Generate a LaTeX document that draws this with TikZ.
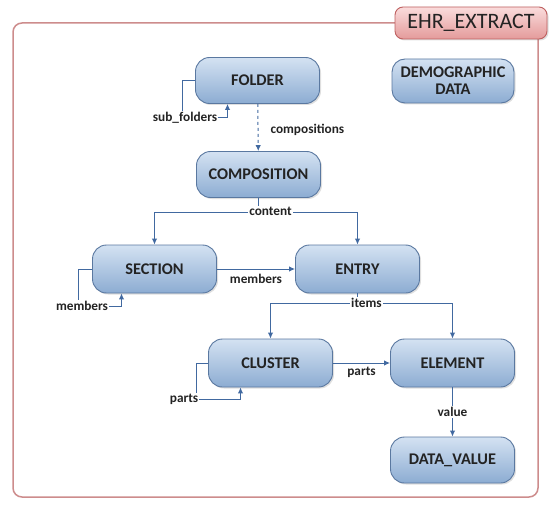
\documentclass[tikz,border=0pt]{standalone}
\usepackage{fontspec}
\setmainfont{Carlito}
\usetikzlibrary{arrows, arrows.meta, positioning, calc, shadows}

\definecolor{boxtop}{RGB}{212,226,242}
\definecolor{boxbot}{RGB}{140,172,210}
\definecolor{boxline}{RGB}{90,120,160}
\definecolor{linkcol}{RGB}{65,105,160}
\definecolor{txt}{RGB}{35,35,35}
\definecolor{framecol}{RGB}{205,140,140}
\definecolor{ehrtop}{RGB}{250,220,220}
\definecolor{ehrbot}{RGB}{228,155,155}
\definecolor{ehrline}{RGB}{190,95,95}

\begin{document}
\begin{tikzpicture}[x=1pt, y=-1pt, >={Latex[length=6pt, width=5.5pt]},
    block/.style={rectangle, draw=boxline, line width=0.9pt, rounded corners=14pt,
        top color=boxtop, bottom color=boxbot, minimum width=124pt, minimum height=46pt,
        text centered, align=center, text=txt, font=\fontsize{16.3}{17}\selectfont\bfseries,
        drop shadow={shadow xshift=1.5pt, shadow yshift=-1.5pt, opacity=0.25}},
    lbl/.style={text=txt, inner sep=1pt, font=\fontsize{13.3}{14}\selectfont\bfseries},
    link/.style={draw=linkcol, line width=1pt, ->}]
    \useasboundingbox (0,0) rectangle (556,505);

    % Frame
    \draw[framecol, line width=1.5pt, rounded corners=9pt] (13,23) rectangle (538,497);
    \node (ehr) [rectangle, draw=ehrline, line width=0.9pt, rounded corners=8pt, top color=ehrtop, bottom color=ehrbot,
        minimum width=152pt, minimum height=32pt, text=txt, font=\fontsize{22}{24}\selectfont,
        drop shadow={shadow xshift=1.5pt, shadow yshift=-1.5pt, opacity=0.25}] at (471,23) {EHR\_EXTRACT};

    % Nodes
    \node (folder) [block] at (257.5,80.5) {FOLDER};
    \node (demographic) [block, minimum width=122pt, minimum height=44pt, rounded corners=13pt] at (453,81) {DEMOGRAPHIC\\DATA};
    \node (composition) [block] at (258.5,174.5) {COMPOSITION};
    \node (section) [block, minimum height=48pt] at (154.5,269) {SECTION};
    \node (entry) [block, minimum height=48pt] at (357.5,269) {ENTRY};
    \node (cluster) [block, minimum height=48pt] at (270.5,363) {CLUSTER};
    \node (element) [block, minimum height=48pt] at (452.5,363) {ELEMENT};
    \node (datavalue) [block] at (452.5,460) {DATA\_VALUE};

    % Arrows
    \draw[link] (folder.west) -- ++(-13,0) -- ++(0,37.5) node[lbl, fill=white, xshift=3pt] {sub\_folders}
        -| ([xshift=-30pt]folder.south);
    \draw[link, dashed] (folder) -- (composition) node[midway, right, lbl, xshift=11pt, yshift=-2pt] {compositions};

    \draw[link] (composition.south) -- ++(0,15) coordinate (csplit) -| (section.north);
    \draw[link] (csplit) -| (entry.north);
    \node (content) [lbl, fill=white] at ([xshift=12pt, yshift=2pt]csplit) {content};

    \draw[link] (section.west) -- ++(-14,0) -- ++(0,37) node[lbl, fill=white, xshift=4pt] {members}
        -| ([xshift=-33pt]section.south);
    \draw[link] (section) -- (entry) node[midway, below, lbl, yshift=-4pt] {members};

    \draw[link] (entry.south) -- ++(0,10) coordinate (esplit) -| (cluster.north);
    \draw[link] (esplit) -| (element.north);
    \node (items) [lbl, fill=white] at ([xshift=9pt, yshift=1pt]esplit) {items};

    \draw[link] (cluster.west) -- ++(-12,0) -- ++(0,36) node[lbl, fill=white, xshift=-12pt] {parts}
        -| ([xshift=-30pt]cluster.south);
    \draw[link] (cluster) -- (element) node[midway, below, lbl, yshift=-3pt] {parts};

    \draw[link] (element) -- (datavalue) node[midway, lbl, fill=white] {value};
\end{tikzpicture}
\end{document}
